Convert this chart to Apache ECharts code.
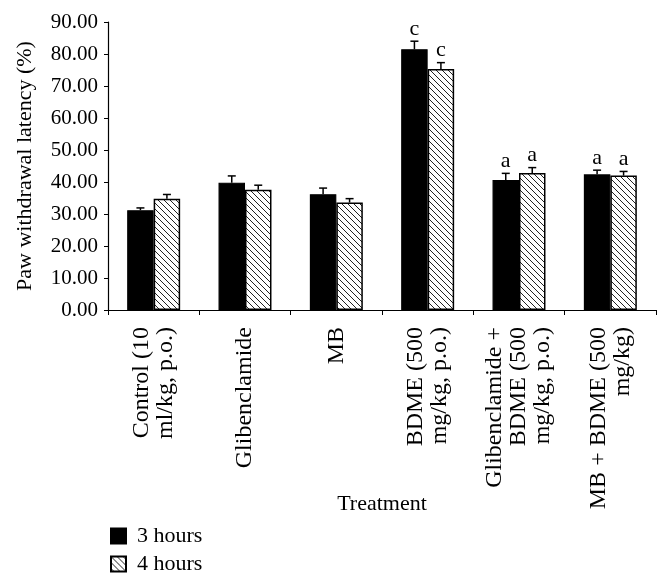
<!DOCTYPE html>
<html>
<head>
<meta charset="utf-8">
<script src="https://cdn.jsdelivr.net/npm/echarts@6/dist/echarts.min.js"></script>
<style>html,body{margin:0;padding:0;background:#fff;}#c{width:671px;height:584px;}</style>
</head>
<body>
<div id="c"></div>
<script>
var categories = ['Control (10\nml/kg, p.o.)', 'Glibenclamide', 'MB', 'BDME (500\nmg/kg, p.o.)', 'Glibenclamide +\nBDME (500\nmg/kg, p.o.)', 'MB + BDME (500\nmg/kg)'];
var seriesNames = ['3 hours', '4 hours'];
var hours3 = [31.2, 39.8, 36.2, 81.5, 40.6, 42.4];
var hours4 = [34.8, 37.6, 33.6, 75.3, 42.8, 42.0];
var err3 = [0.7, 2.1, 1.9, 2.5, 2.1, 1.3];
var err4 = [1.3, 1.4, 1.2, 2.0, 1.7, 1.3];
var sig3 = ['', '', '', 'c', 'a', 'a'];
var sig4 = ['', '', '', 'c', 'a', 'a'];
var yTicks = [0, 10, 20, 30, 40, 50, 60, 70, 80, 90];

var FONT = 'Liberation Serif';

function hatch() {
  var s = 6;
  var cv = document.createElement('canvas');
  cv.width = s; cv.height = s;
  var ctx = cv.getContext('2d');
  ctx.fillStyle = '#fff';
  ctx.fillRect(0, 0, s, s);
  ctx.strokeStyle = '#222';
  ctx.lineWidth = 1;
  [-s, 0, s].forEach(function (k) {
    ctx.beginPath();
    ctx.moveTo(k, 0);
    ctx.lineTo(k + s, s);
    ctx.stroke();
  });
  return cv;
}

var BAR_FRAC = 0.29;

function errSeries(vals, errs, sigs, side) {
  var data = vals.map(function (v, i) { return [i, v, errs[i], sigs[i]]; });
  return {
    type: 'custom',
    silent: true,
    z: 5,
    data: data,
    renderItem: function (params, api) {
      var i = api.value(0), v = api.value(1), e = api.value(2);
      var sig = data[params.dataIndex][3];
      var catW = api.size([1, 0])[0];
      var bw = catW * BAR_FRAC;
      var base = api.coord([i, v]);
      var top = api.coord([i, v + e]);
      var x = base[0] + side * bw / 2;
      var cap = 4;
      var children = [
        { type: 'line', shape: { x1: x, y1: base[1], x2: x, y2: top[1] }, style: { stroke: '#000', lineWidth: 1.5 } },
        { type: 'line', shape: { x1: x - cap, y1: top[1], x2: x + cap, y2: top[1] }, style: { stroke: '#000', lineWidth: 1.5 } }
      ];
      if (sig) {
        children.push({ type: 'text', style: { text: sig, x: x, y: top[1] - 1, align: 'center', verticalAlign: 'bottom', font: '22px "' + FONT + '"', fill: '#000' } });
      }
      return { type: 'group', children: children };
    }
  };
}

var chart = echarts.init(document.getElementById('c'), null, { renderer: 'canvas' });
chart.setOption({
  backgroundColor: '#fff',
  animation: false,
  textStyle: { fontFamily: FONT, color: '#000' },
  grid: { left: 108, right: 15, top: 22, bottom: 274, containLabel: false },
  legend: {
    orient: 'vertical',
    left: 110, top: 525,
    padding: 0,
    itemWidth: 15, itemHeight: 15, itemGap: 6,
    icon: 'rect',
    data: seriesNames,
    textStyle: { fontFamily: FONT, fontSize: 22, color: '#000', padding: [0, 0, 0, 6] }
  },
  xAxis: {
    type: 'category',
    data: categories,
    name: 'Treatment',
    nameLocation: 'middle',
    nameGap: 183,
    nameMoveOverlap: false,
    nameTextStyle: { fontFamily: FONT, fontSize: 22, color: '#000' },
    axisLine: { lineStyle: { color: '#000', width: 1.2 } },
    axisTick: { show: true, interval: 0, length: 5, lineStyle: { color: '#000' } },
    axisLabel: { interval: 0, rotate: 90, margin: 17, fontFamily: FONT, fontSize: 24, lineHeight: 24, color: '#000' }
  },
  yAxis: {
    type: 'value',
    min: yTicks[0], max: yTicks[yTicks.length - 1], interval: 10,
    name: 'Paw withdrawal latency (%)',
    nameLocation: 'middle',
    nameGap: 72,
    nameMoveOverlap: false,
    nameTextStyle: { fontFamily: FONT, fontSize: 22, color: '#000' },
    axisLine: { show: true, lineStyle: { color: '#000', width: 1.2 } },
    axisTick: { show: true, length: 4, lineStyle: { color: '#000' } },
    splitLine: { show: false },
    axisLabel: { fontFamily: FONT, fontSize: 21, color: '#000', margin: 10, formatter: function (v) { return v.toFixed(2); } }
  },
  series: [
    {
      name: seriesNames[0], type: 'bar', data: hours3,
      barWidth: (BAR_FRAC * 100) + '%', barGap: '0%',
      itemStyle: { color: '#000', borderColor: '#000', borderWidth: 1.2 }
    },
    {
      name: seriesNames[1], type: 'bar', data: hours4,
      barWidth: (BAR_FRAC * 100) + '%', barGap: '0%',
      itemStyle: { color: { image: hatch(), repeat: 'repeat' }, borderColor: '#000', borderWidth: 1.5 }
    },
    errSeries(hours3, err3, sig3, -1),
    errSeries(hours4, err4, sig4, 1)
  ]
});
</script>
</body>
</html>
